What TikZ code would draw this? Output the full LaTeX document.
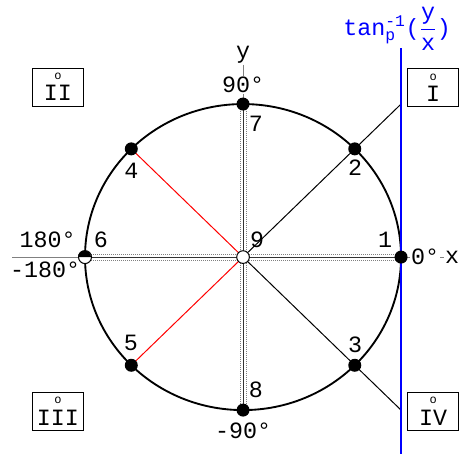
\documentclass[tikz,border=0pt]{standalone}
\usepackage{amsmath}
\usepackage{fontspec}
\setmainfont{Liberation Mono}
\usetikzlibrary{positioning,backgrounds}

\newcommand\quadmark[1]{{\fontsize{9}{9}\selectfont o}\\[-3pt]#1}

\begin{document}
\begin{tikzpicture}[x=118.5pt,y=114.75pt,
font=\fontsize{17.5}{19}\selectfont,
dot/.style={circle,fill,inner sep=0pt,minimum size=9.75pt},
hollow dot/.style={circle,draw,fill=white,inner sep=0pt,minimum size=9.5pt,line width=0.75pt},
num/.style={inner sep=0pt},
axis label/.style={fill=white,inner sep=0.5pt},
quad box/.style={draw,line width=0.75pt,minimum width=38.25pt,minimum height=28.5pt,align=center,inner sep=1pt},
ray/.style={line width=0.75pt},
axis line/.style={gray,line width=0.6pt},
rail/.style={gray,line width=0.6pt,dash pattern=on 0.6pt off 0.9pt}]
\useasboundingbox (-1.538,-1.314) rectangle (1.392,1.680);
% points on the circle
\node[hollow dot] (o) at (0,0) {};
\node[dot] (p1) at (1,0) {};
\node[dot] (p2) at (0.7071,0.7071) {};
\node[dot] (p3) at (0.7071,-0.7071) {};
\node[dot] (p4) at (-0.7071,0.7071) {};
\node[dot] (p5) at (-0.7071,-0.7071) {};
\node[hollow dot,minimum size=9.75pt] (p6) at (-1,0) {};
\fill (p6.west) arc[start angle=180,end angle=0,radius=4.875pt] -- cycle;
\node[dot] (p7) at (0,1) {};
\node[dot] (p8) at (0,-1) {};
\coordinate (t2) at (1,1);
\coordinate (t3) at (1,-1);
\coordinate (tan top) at (1,1.366);
\coordinate (tan bot) at (1,-1.29);
\coordinate (xmin) at (-1.462,0);
% axis labels
\node[axis label] (xlbl) at (1.323,0) {x};
\node[axis label] (ylbl) at (0,1.320) {y};
\node[axis label] (deg0) at (1.152,0) {0°};
\node[axis label] (deg90) at (0,1.124) {90°};
\node[axis label] (degm90) at (0,-1.137) {-90°};
\node[num] (deg180) at (-1.237,0.11) {180°};
\node[num] (degm180) at (-1.253,-0.085) {-180°};
\node[text=blue,inner sep=0pt] (tanlbl) at (0.975,1.49) {tan$^{\text{-1}}_{\text{p}}$($\dfrac{\text{y}}{\text{x}}$)};
% numbers
\node[num] (n1) at (0.899,0.111) {1};
\node[num] (n2) at (0.709,0.582) {2};
\node[num] (n3) at (0.709,-0.575) {3};
\node[num] (n4) at (-0.706,0.564) {4};
\node[num] (n5) at (-0.709,-0.562) {5};
\node[num] (n6) at (-0.899,0.111) {6};
\node[num] (n7) at (0.082,0.869) {7};
\node[num] (n8) at (0.082,-0.869) {8};
\node[num] (n9) at (0.089,0.111) {9};
% quadrants
\node[quad box] (q1) at (1.203,1.105) {\quadmark{I}};
\node[quad box] (q2) at (-1.171,1.111) {\quadmark{II}};
\node[quad box] (q3) at (-1.171,-1.007) {\quadmark{III}};
\node[quad box] (q4) at (1.203,-1.007) {\quadmark{IV}};
\begin{scope}[on background layer]
\draw[axis line] (xmin) -- (xlbl);
\draw[axis line] (ylbl) -- (p8);
\draw[black!80,line width=0.6pt] (o.center) -- (p1.center) (o.center) -- (p6.center)
  (o.center) -- (p7.center) (o.center) -- (p8.center);
\foreach \s in {-2.25pt,2.25pt}{
  \draw[rail] ([yshift=\s]p6.center) -- ([yshift=\s]p1.center);
  \draw[rail] ([xshift=\s]p8.center) -- ([xshift=\s]p7.center);
}
\draw[line width=1.4pt] (0,0) circle[x radius=1,y radius=1];
\draw[ray] (o.center) -- (t2);
\draw[ray] (o.center) -- (t3);
\draw[ray,red] (o.center) -- (p4.center);
\draw[ray,red] (o.center) -- (p5.center);
\draw[blue,line width=1.5pt] (tan top) -- (tan bot);
\end{scope}
\end{tikzpicture}
\end{document}
